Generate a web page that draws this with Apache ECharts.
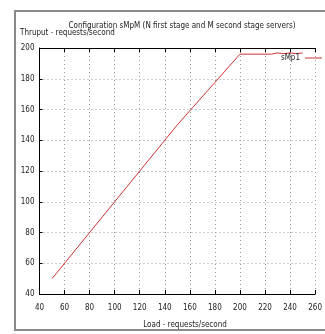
<!DOCTYPE html>
<html><head><meta charset="utf-8">
<script src="https://cdn.jsdelivr.net/npm/echarts@6/dist/echarts.min.js"></script>
<style>html,body{margin:0;padding:0;background:#fff}#c{width:325px;height:334px}</style>
</head><body><div id="c"></div>
<script>
const loadX = [50, 100, 150, 200, 225, 230, 235, 240, 245, 250];
const thruput = [50, 100, 150, 196, 196, 196.8, 196.3, 196.8, 196.3, 196.8];
const seriesName = 'sMp1';
const titleText = 'Configuration sMpM (N first stage and M second stage servers)';
const yName = 'Thruput - requests/second';
const xName = 'Load - requests/second';

const F = '"Liberation Sans Narrow", "DejaVu Sans Condensed", sans-serif';
const chart = echarts.init(document.getElementById('c'), null, {renderer:'canvas'});
const gridStyle = {show:true, lineStyle:{color:'#999', type:[1,3], width:1}};
chart.setOption({
  animation:false,
  textStyle:{fontFamily:F},
  graphic:[
    {type:'polyline', shape:{points:[[340,11],[15,11],[15,330],[340,330]]}, style:{fill:'none', stroke:'#8a8a8a', lineWidth:2}, silent:true},
    {type:'text', x:182, y:26, style:{text:titleText, font:'8px '+F, fill:'#222', align:'center', verticalAlign:'middle'}},
    {type:'text', x:20, y:33, style:{text:yName, font:'8px '+F, fill:'#222', align:'left', verticalAlign:'middle'}},
    {type:'text', x:185, y:325, style:{text:xName, font:'8px '+F, fill:'#222', align:'center', verticalAlign:'middle'}}
  ],
  legend:{right:3, top:54, align:'right', itemWidth:17, itemHeight:8, itemGap:3,
    textStyle:{fontSize:8, fontFamily:F, color:'#222', padding:[0,0,0,0]}, data:[{name:seriesName, icon:'path://M0,0H17V1H0Z'}], padding:0},
  grid:{left:39.5, width:287.5, top:48, height:246, containLabel:false},
  xAxis:[{type:'value', min:40, max:260, interval:20, position:'bottom',
    axisLine:{lineStyle:{color:'#000', width:1}}, axisTick:{inside:true, length:4, lineStyle:{color:'#000'}},
    axisLabel:{fontSize:8, color:'#222', margin:10, fontFamily:F}, splitLine:gridStyle},
   {type:'value', min:40, max:260, interval:20, position:'top',
    axisLine:{show:true, lineStyle:{color:'#000', width:1}}, axisTick:{show:true, inside:true, length:4, lineStyle:{color:'#000'}},
    axisLabel:{show:false}, splitLine:{show:false}}],
  yAxis:{type:'value', min:40, max:200, interval:20,
    axisLine:{show:true, lineStyle:{color:'#000', width:1}}, axisTick:{show:true, inside:true, length:3, lineStyle:{color:'#000'}},
    axisLabel:{fontSize:8, color:'#222', margin:5, fontFamily:F}, splitLine:gridStyle},
  series:[{name:seriesName, type:'line', data:loadX.map((x,i)=>[x, thruput[i]]), symbol:'none',
    lineStyle:{color:'#cc3333', width:1}, itemStyle:{color:'#cc3333'}}]
});
</script></body></html>
